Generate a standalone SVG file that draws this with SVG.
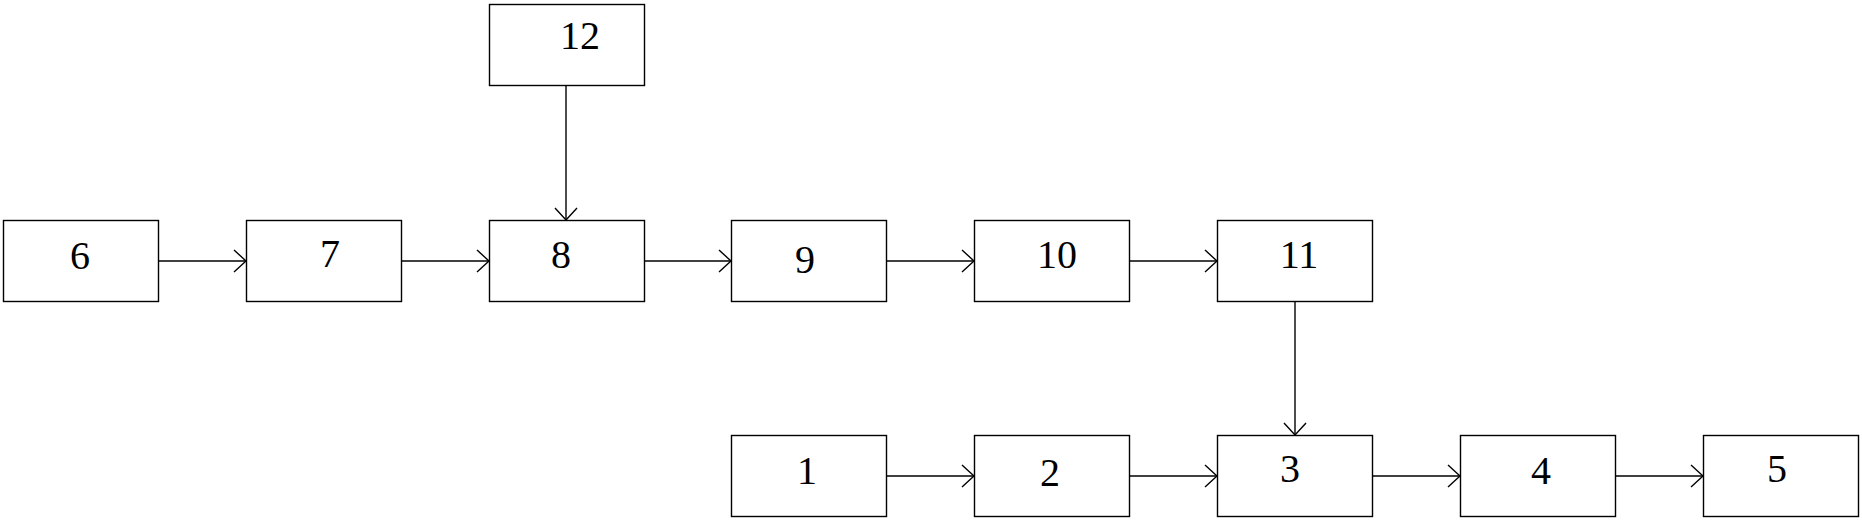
<svg xmlns="http://www.w3.org/2000/svg" width="1862" height="527" viewBox="0 0 1862 527">
<style>
rect.box{fill:#fff;stroke:#000;stroke-width:1.4}
text{font-family:"Liberation Serif","DejaVu Serif",serif;font-size:40px;fill:#000;text-anchor:middle}
.conn line{stroke:#000;stroke-width:1.4;fill:none}
</style>
<defs>
<marker id="arr" viewBox="0 0 14 24" refX="13" refY="12" markerWidth="14" markerHeight="24" markerUnits="userSpaceOnUse" orient="auto">
<path d="M1,1 L13,12 L1,23" fill="none" stroke="#000" stroke-width="1.4"/>
</marker>
</defs>
<g class="conn">
<line x1="158" y1="261" x2="246" y2="261" marker-end="url(#arr)"/>
<line x1="401" y1="261" x2="489" y2="261" marker-end="url(#arr)"/>
<line x1="644" y1="261" x2="731" y2="261" marker-end="url(#arr)"/>
<line x1="886" y1="261" x2="974" y2="261" marker-end="url(#arr)"/>
<line x1="1129" y1="261" x2="1217" y2="261" marker-end="url(#arr)"/>
<line x1="566" y1="86" x2="566" y2="220" marker-end="url(#arr)"/>
<line x1="1295" y1="301" x2="1295" y2="435" marker-end="url(#arr)"/>
<line x1="886" y1="476" x2="974" y2="476" marker-end="url(#arr)"/>
<line x1="1129" y1="476" x2="1217" y2="476" marker-end="url(#arr)"/>
<line x1="1372" y1="476" x2="1460" y2="476" marker-end="url(#arr)"/>
<line x1="1615" y1="476" x2="1703" y2="476" marker-end="url(#arr)"/>
</g>
<g id="n6"><rect class="box" x="3.5" y="220.5" width="155" height="81"/><text x="80" y="269">6</text></g>
<g id="n7"><rect class="box" x="246.5" y="220.5" width="155" height="81"/><text x="330" y="267">7</text></g>
<g id="n8"><rect class="box" x="489.5" y="220.5" width="155" height="81"/><text x="561" y="268">8</text></g>
<g id="n9"><rect class="box" x="731.5" y="220.5" width="155" height="81"/><text x="805" y="273">9</text></g>
<g id="n10"><rect class="box" x="974.5" y="220.5" width="155" height="81"/><text x="1057" y="268">10</text></g>
<g id="n11"><rect class="box" x="1217.5" y="220.5" width="155" height="81"/><text x="1299" y="268">11</text></g>
<g id="n12"><rect class="box" x="489.5" y="4.5" width="155" height="81"/><text x="580" y="49">12</text></g>
<g id="n1"><rect class="box" x="731.5" y="435.5" width="155" height="81"/><text x="807" y="484">1</text></g>
<g id="n2"><rect class="box" x="974.5" y="435.5" width="155" height="81"/><text x="1050" y="486">2</text></g>
<g id="n3"><rect class="box" x="1217.5" y="435.5" width="155" height="81"/><text x="1290" y="482">3</text></g>
<g id="n4"><rect class="box" x="1460.5" y="435.5" width="155" height="81"/><text x="1541" y="484">4</text></g>
<g id="n5"><rect class="box" x="1703.5" y="435.5" width="155" height="81"/><text x="1777" y="482">5</text></g>
</svg>
